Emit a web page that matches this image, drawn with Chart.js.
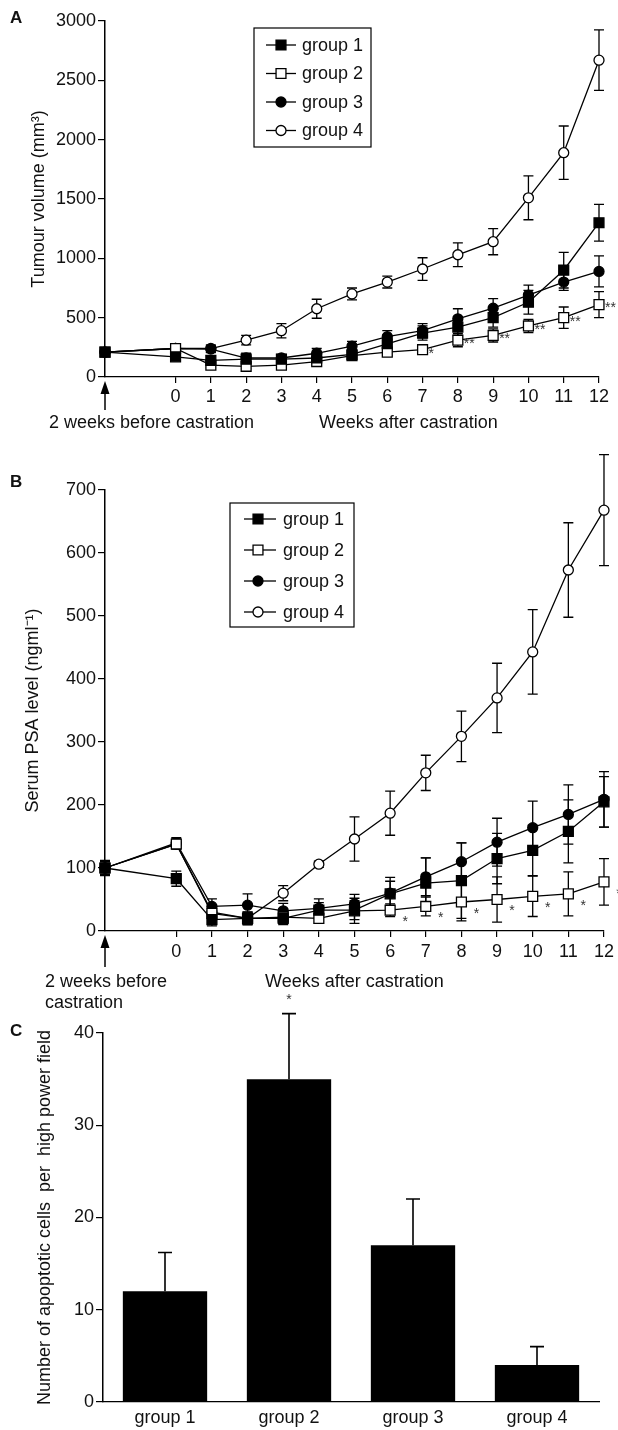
<!DOCTYPE html>
<html>
<head>
<meta charset="utf-8">
<script src="https://cdn.jsdelivr.net/npm/chart.js@4.4.1/dist/chart.umd.min.js"></script>
<style>
body { margin: 0; background: #fff; width: 618px; height: 1430px; position: relative; overflow: hidden;
       font-family: "Liberation Sans", Arial, sans-serif; color: #111; }
.box { position: absolute; left: 0; width: 618px; }
.t { position: absolute; font-size: 18px; line-height: 21px; white-space: nowrap; }
.p { position: absolute; font-size: 17px; line-height: 20px; font-weight: bold; }
</style>
</head>
<body>
<div class="box" style="top:0;height:445px"><canvas id="chartA"></canvas></div>
<div class="box" style="top:445px;height:565px"><canvas id="chartB"></canvas></div>
<div class="box" style="top:990px;height:440px"><canvas id="chartC"></canvas></div>

<div class="p" style="left:10px;top:8px">A</div>
<div class="t" style="left:49px;top:412px">2 weeks before castration</div>
<div class="t" style="left:319px;top:412px">Weeks after castration</div>

<div class="p" style="left:10px;top:472px">B</div>
<div class="t" style="left:45px;top:971px">2 weeks before</div>
<div class="t" style="left:45px;top:992px">castration</div>
<div class="t" style="left:265px;top:971px">Weeks after castration</div>

<div class="p" style="left:10px;top:1021px">C</div>

<script>
// weeks relative to castration (-2 = 2 weeks before)
var weeks = [-2, 0, 1, 2, 3, 4, 5, 6, 7, 8, 9, 10, 11, 12];
var groups = ['group 1', 'group 2', 'group 3', 'group 4'];

// A - tumour volume (mm3), mean and error
var volG1 = [210, 170, 140, 150, 150, 160, 190, 280, 370, 420, 500, 630, 900, 1300];
var volG2 = [210, 240, 100, 90, 100, 130, 180, 210, 230, 310, 350, 430, 500, 610];
var volG3 = [210, 240, 235, 160, 160, 200, 260, 340, 390, 490, 580, 690, 800, 890];
var volG4 = [210, 240, 240, 310, 390, 575, 700, 800, 910, 1030, 1140, 1510, 1890, 2670];
var volErrG1 = [20, 30, 40, 30, 30, 30, 30, 50, 60, 70, 80, 100, 150, 155];
var volErrG2 = [20, 30, 20, 20, 20, 30, 30, 30, 40, 55, 55, 55, 90, 110];
var volErrG3 = [20, 30, 30, 40, 30, 40, 40, 50, 60, 85, 80, 85, 70, 130];
var volErrG4 = [20, 30, 30, 40, 60, 80, 50, 50, 95, 100, 110, 185, 225, 255];
var volSigG2 = ['', '', '', '', '', '', '', '', '*', '**', '**', '**', '**', '**'];

// B - serum PSA (ng/ml)
var psaG1 = [100, 83, 18, 20, 20, 33, 33, 59, 76, 80, 115, 128, 158, 205];
var psaG2 = [100, 138, 28, 20, 22, 20, 32, 33, 39, 46, 50, 55, 59, 78];
var psaG3 = [100, 140, 39, 41, 32, 36, 43, 60, 86, 110, 141, 164, 185, 209];
var psaG4 = [100, 138, 30, 20, 60, 106, 146, 187, 251, 309, 370, 443, 573, 668];
var psaErrG1 = [12, 12, 10, 10, 10, 12, 15, 20, 40, 60, 40, 40, 50, 40];
var psaErrG2 = [10, 8, 10, 10, 10, 8, 20, 10, 15, 30, 36, 32, 35, 37];
var psaErrG3 = [10, 8, 12, 18, 12, 15, 15, 25, 30, 30, 38, 42, 47, 44];
var psaErrG4 = [10, 5, 10, 10, 12, 5, 35, 35, 28, 40, 55, 67, 75, 88];
var psaSigG2 = ['', '', '', '', '', '', '', '*', '*', '*', '*', '*', '*', '*'];

// C - apoptotic cells per high power field
var apoptotic = [12, 35, 17, 4];
var apoptoticErr = [4.2, 7.1, 5, 2];
var apoptoticSig = ['', '*', '', ''];

var FONT = '"Liberation Sans", Arial, sans-serif';
Chart.defaults.font.family = FONT;
Chart.defaults.font.size = 18;
Chart.defaults.color = '#111';

function plainNumber(v) { return String(v); }

function drawMark(ctx, ds, x, y) {
    ctx.fillStyle = ds.pointBackgroundColor;
    ctx.strokeStyle = '#000';
    ctx.lineWidth = 1.3;
    ctx.beginPath();
    if (ds.pointStyle === 'rect') {
        var s = ds.pointRadius * Math.SQRT1_2;
        ctx.rect(x - s, y - s, 2 * s, 2 * s);
    } else {
        ctx.arc(x, y, ds.pointRadius, 0, Math.PI * 2);
    }
    ctx.fill();
    ctx.stroke();
}

function valueOf(ds, j) {
    var d = ds.data[j];
    return typeof d === 'object' ? d.y : d;
}

function paintErrors(chart, o) {
    var ctx = chart.ctx, ys = chart.scales.y;
    ctx.save();
    ctx.strokeStyle = '#000';
    ctx.lineWidth = o.width || 1.3;
    chart.data.datasets.forEach(function(ds, i) {
        if (!ds.errors) return;
        chart.getDatasetMeta(i).data.forEach(function(el, j) {
            var v = valueOf(ds, j), e = ds.errors[j];
            var top = ys.getPixelForValue(v + e);
            var bot = ys.getPixelForValue(o.upOnly ? v : v - e);
            ctx.beginPath();
            ctx.moveTo(el.x, top); ctx.lineTo(el.x, bot);
            ctx.moveTo(el.x - o.cap, top); ctx.lineTo(el.x + o.cap, top);
            if (!o.upOnly) { ctx.moveTo(el.x - o.cap, bot); ctx.lineTo(el.x + o.cap, bot); }
            ctx.stroke();
        });
    });
    ctx.restore();
}

var errorBars = {
    id: 'errorBars',
    beforeDatasetsDraw: function(chart, args, o) { if (!o.after) paintErrors(chart, o); },
    afterDatasetsDraw: function(chart, args, o) { if (o.after) paintErrors(chart, o); }
};

var sigMarks = {
    id: 'sigMarks',
    afterDatasetsDraw: function(chart, args, o) {
        var ctx = chart.ctx, ys = chart.scales.y;
        ctx.save();
        ctx.font = o.size + 'px ' + FONT;
        ctx.fillStyle = '#333';
        ctx.textAlign = o.align;
        ctx.textBaseline = 'middle';
        chart.data.datasets.forEach(function(ds, i) {
            if (!ds.sig) return;
            chart.getDatasetMeta(i).data.forEach(function(el, j) {
                if (!ds.sig[j]) return;
                var y = o.aboveError ? ys.getPixelForValue(valueOf(ds, j) + ds.errors[j]) : el.y;
                ctx.fillText(ds.sig[j], el.x + o.dx, y + o.dy);
            });
        });
        ctx.restore();
    }
};

var boxLegend = {
    id: 'boxLegend',
    afterDraw: function(chart, args, o) {
        if (!o.w) return;
        var ctx = chart.ctx;
        ctx.save();
        ctx.strokeStyle = '#000';
        ctx.lineWidth = 1.2;
        ctx.strokeRect(o.x, o.y, o.w, o.h);
        chart.data.datasets.forEach(function(ds, i) {
            var y = o.first + i * o.row;
            ctx.strokeStyle = '#000';
            ctx.lineWidth = 1.3;
            ctx.beginPath(); ctx.moveTo(o.x0, y); ctx.lineTo(o.x1, y); ctx.stroke();
            drawMark(ctx, ds, o.mx, y);
            ctx.fillStyle = '#111';
            ctx.font = '18px ' + FONT;
            ctx.textBaseline = 'middle';
            ctx.fillText(ds.label, o.tx, y + 1);
        });
        ctx.restore();
    }
};

// arrow marking the time point 2 weeks before castration
var startArrow = {
    id: 'startArrow',
    afterDraw: function(chart, args, o) {
        if (!o.len) return;
        var ctx = chart.ctx;
        var x = chart.scales.x.getPixelForValue(weeks[0]);
        var y0 = chart.chartArea.bottom;
        ctx.save();
        ctx.fillStyle = '#000';
        ctx.strokeStyle = '#000';
        ctx.lineWidth = 1.5;
        ctx.beginPath();
        ctx.moveTo(x, y0 + 4); ctx.lineTo(x - 4.5, y0 + 17); ctx.lineTo(x + 4.5, y0 + 17);
        ctx.closePath(); ctx.fill();
        ctx.beginPath(); ctx.moveTo(x, y0 + 16); ctx.lineTo(x, y0 + o.len); ctx.stroke();
        ctx.restore();
    }
};

function makeSet(label, vals, errs, style, filled, sig) {
    return {
        label: label,
        data: weeks.map(function(w, i) { return {x: w, y: vals[i]}; }),
        errors: errs,
        sig: sig,
        borderColor: '#000',
        borderWidth: 1.3,
        pointStyle: style,
        pointRadius: style === 'rect' ? 7 : 5,
        pointBackgroundColor: filled ? '#000' : '#fff',
        pointBorderColor: '#000',
        pointBorderWidth: 1.3,
        tension: 0,
        fill: false,
        clip: false
    };
}

function lineOptions(cfg) {
    return {
        responsive: true,
        maintainAspectRatio: false,
        animation: false,
        layout: {padding: {top: cfg.top, right: cfg.right, left: 0, bottom: 0}},
        plugins: {
            legend: {display: false},
            tooltip: {enabled: false},
            errorBars: {cap: 5},
            sigMarks: cfg.sig,
            boxLegend: cfg.legend,
            startArrow: {len: cfg.arrow}
        },
        scales: {
            x: {
                type: 'linear', min: -2, max: 12,
                ticks: {stepSize: 1, padding: cfg.xpad, color: '#111', callback: plainNumber},
                grid: {display: true, drawOnChartArea: false, drawTicks: true, tickLength: 6, color: '#000', lineWidth: 1.2},
                border: {display: true, color: '#000', width: 1.3},
                afterBuildTicks: function(s) { s.ticks = s.ticks.filter(function(t) { return t.value >= 0; }); },
                afterFit: function(s) { s.height = cfg.xh; }
            },
            y: {
                min: 0, max: cfg.ymax,
                ticks: {stepSize: cfg.step, padding: 2, color: '#111', callback: plainNumber},
                grid: {display: true, drawOnChartArea: false, drawTicks: true, tickLength: 7, color: '#000', lineWidth: 1.2},
                border: {display: true, color: '#000', width: 1.5},
                title: {display: true, text: cfg.title, color: '#111', padding: {top: cfg.tpad, bottom: 0}},
                afterFit: function(s) { s.width = 105; }
            }
        }
    };
}

new Chart(document.getElementById('chartA'), {
    type: 'line',
    data: {datasets: [
        makeSet(groups[0], volG1, volErrG1, 'rect', true),
        makeSet(groups[1], volG2, volErrG2, 'rect', false, volSigG2),
        makeSet(groups[2], volG3, volErrG3, 'circle', true),
        makeSet(groups[3], volG4, volErrG4, 'circle', false)
    ]},
    options: lineOptions({
        top: 21, right: 19, xh: 68, xpad: 3, ymax: 3000, step: 500, tpad: 28,
        title: 'Tumour volume (mm\u00b3)', arrow: 33,
        sig: {size: 14, align: 'left', dx: 6, dy: 4},
        legend: {x: 254, y: 28, w: 117, h: 119, first: 45, row: 28.5, x0: 266, x1: 296, mx: 281, tx: 302}
    }),
    plugins: [errorBars, sigMarks, boxLegend, startArrow]
});

new Chart(document.getElementById('chartB'), {
    type: 'line',
    data: {datasets: [
        makeSet(groups[0], psaG1, psaErrG1, 'rect', true),
        makeSet(groups[1], psaG2, psaErrG2, 'rect', false, psaSigG2),
        makeSet(groups[2], psaG3, psaErrG3, 'circle', true),
        makeSet(groups[3], psaG4, psaErrG4, 'circle', false)
    ]},
    options: lineOptions({
        top: 45, right: 14, xh: 79, xpad: 4, ymax: 700, step: 100, tpad: 22,
        title: 'Serum PSA level (ngml\u207b\u00b9)', arrow: 36,
        sig: {size: 14, align: 'center', dx: 15, dy: 12},
        legend: {x: 230, y: 58, w: 124, h: 124, first: 74, row: 31, x0: 244, x1: 276, mx: 258, tx: 283}
    }),
    plugins: [errorBars, sigMarks, boxLegend, startArrow]
});

new Chart(document.getElementById('chartC'), {
    type: 'bar',
    data: {
        labels: groups,
        datasets: [{
            data: apoptotic,
            errors: apoptoticErr,
            sig: apoptoticSig,
            backgroundColor: '#000',
            borderWidth: 0,
            categoryPercentage: 0.68,
            barPercentage: 1
        }]
    },
    options: {
        responsive: true,
        maintainAspectRatio: false,
        animation: false,
        layout: {padding: {top: 43, right: 19, left: 0, bottom: 0}},
        plugins: {
            legend: {display: false},
            tooltip: {enabled: false},
            errorBars: {cap: 7, upOnly: true, after: true, width: 1.6},
            sigMarks: {size: 14, align: 'center', dx: 0, dy: -13, aboveError: true}
        },
        scales: {
            x: {
                ticks: {padding: 5, color: '#111'},
                grid: {display: false, drawTicks: false},
                border: {display: true, color: '#000', width: 1.3},
                afterFit: function(s) { s.height = 28; }
            },
            y: {
                min: 0, max: 40,
                ticks: {stepSize: 10, padding: 2, color: '#111', callback: plainNumber},
                grid: {display: true, drawOnChartArea: false, drawTicks: true, tickLength: 7, color: '#000', lineWidth: 1.2},
                border: {display: true, color: '#000', width: 1.5},
                title: {display: true, text: 'Number of apoptotic cells  per  high power field', color: '#111', padding: {top: 34, bottom: 0}},
                afterFit: function(s) { s.width = 103; }
            }
        }
    },
    plugins: [errorBars, sigMarks]
});
</script>
</body>
</html>
